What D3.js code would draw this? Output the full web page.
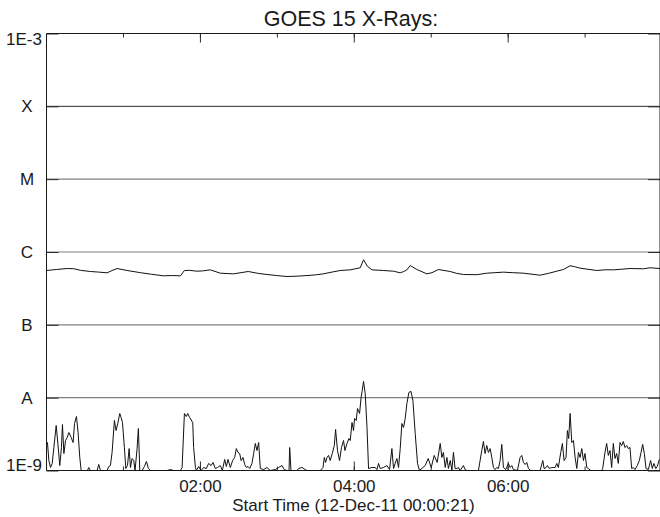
<!DOCTYPE html>
<html><head><meta charset="utf-8">
<script src="https://cdn.jsdelivr.net/npm/d3@7"></script>
<style>
body{margin:0;background:#fff;}
svg{display:block;}
text{font-family:"Liberation Sans",Arial,Helvetica,sans-serif;fill:#1a1a1a;}
</style>
</head><body>
<svg id="chart" width="660" height="517"></svg>
<script>
// ---- data ----
const titleText = "GOES 15 X-Rays:";
const xAxisTitle = "Start Time (12-Dec-11 00:00:21)";
const startMinute = 0.35;   // 00:00:21
const endMinute = 478.8;
const yTickValues = [1e-3, 1e-4, 1e-5, 1e-6, 1e-7, 1e-8, 1e-9];
const yTickLabels = ["1E-3", "X", "M", "C", "B", "A", "1E-9"];

// 1-8 A channel: [minutes after 00:00 UT, flux in 1e-7 W/m^2]
const longChannel = [
[0.4,5.57],[8,5.75],[16.5,5.93],[21.4,5.9],[27,5.6],[34.6,5.40],[41,5.3],[47.6,5.18],[51.5,5.57],[55.4,5.93],
[63.2,5.57],[73.6,5.2],[82,4.95],[91.5,4.71],[98,4.75],[104.8,4.71],[107.9,5.57],[112,5.6],[117.8,5.45],[122,5.5],
[128.1,5.69],[135.9,5.12],[146.1,5.01],[152,5.2],[157.7,5.40],[165,5.1],[172.3,4.91],[180,4.75],[187.9,4.61],[195,4.65],
[203.5,4.75],[210,4.85],[216.2,5.01],[223,5.3],[229.4,5.57],[237.2,5.69],[245.0,6.07],[247.6,7.82],[250.5,6.4],[254.1,5.69],
[263.2,5.57],[271.0,5.45],[276.2,5.18],[279,5.4],[281.4,5.69],[284.0,6.52],[289.2,5.75],[297.0,5.01],[301,5.2],[306.0,5.75],
[315.2,5.40],[320,5.1],[325.5,4.91],[336.0,4.88],[343.7,5.12],[350,5.2],[356.7,5.29],[364,5.2],[372.3,5.12],[385.3,4.80],
[392,5.1],[398.3,5.45],[403.4,5.75],[408.7,6.47],[412,6.3],[416.5,6.0],[429.5,5.57],[436,5.7],[442.4,5.69],[449,5.8],
[455.4,5.93],[465.8,5.88],[471.0,6.07],[478.8,5.93]
];

// 0.5-4 A channel: [minutes after 00:00 UT, flux in 1e-9 W/m^2]
const shortChannel = [
[0.4,2.42],[1.1,2.42],[2.2,1.37],[3.5,1.10],[4.8,1.25],[6.1,2.07],[7.9,4.15],[9.2,2.35],[10.7,1.17],[12.0,2.07],
[12.8,4.28],[13.9,1.71],[15.2,2.58],[16.5,2.84],[17.8,3.32],[19.6,2.84],[21.1,2.42],[22.2,4.42],[23.7,5.51],[25.0,3.32],
[26.3,1.51],[27.4,0.9],[30.7,0.9],[32.3,0.9],[33.3,1.10],[34.6,0.9],[39.8,0.9],[41.1,1.21],[42.4,0.9],[47.6,0.95],
[48.9,1.135],[50.2,1.17],[51.5,1.77],[53.3,4.86],[54.6,3.54],[55.9,4.42],[57.5,6.06],[58.5,5.34],[59.6,4.56],[61.1,2.07],
[62.2,1.065],[63.5,1.17],[64.8,2.0],[65.8,1.10],[67.1,1.46],[68.4,1.37],[69.4,0.95],[71.0,2.0],[72.0,3.77],[73.1,0.9],
[74.9,0.9],[76.7,1.135],[78.3,1.33],[79.8,1.065],[81.4,0.9],[94.4,0.9],[97.0,1.03],[99.6,0.9],[104.8,0.9],[106.1,1.10],
[107.9,6.06],[109.4,5.51],[110.5,6.06],[112.0,5.34],[114.4,4.56],[115.1,2.07],[116.5,1.10],[117.2,0.95],[119.0,1.135],[120.9,0.95],
[122.9,1.10],[125.0,1.065],[126.8,1.25],[128.7,1.17],[130.2,1.29],[132.0,1.065],[133.8,1.10],[135.9,1.17],[137.5,0.97],[139.3,1.42],
[140.6,1.135],[141.9,1.42],[143.7,1.10],[145.5,1.37],[147.1,1.51],[148.4,2.0],[149.7,1.77],[151.0,1.71],[152.1,1.37],[153.6,1.51],
[154.9,1.21],[156.2,1.10],[157.5,1.135],[158.8,1.065],[160.6,1.25],[161.9,1.71],[163.2,2.35],[164.5,1.88],[165.8,2.42],[167.1,1.065],
[169.7,1.03],[172.3,1.10],[174.9,0.95],[178.8,1.03],[181.4,1.10],[184.0,1.17],[185.8,1.03],[187.9,0.9],[189.5,0.9],[190.0,2.07],
[191.0,0.9],[195.7,0.9],[196.9,1.065],[199.6,1.10],[202.2,1.03],[203.5,0.9],[213.9,0.9],[216.0,1.10],[217.0,1.51],[218.0,1.29],
[219.1,1.51],[220.3,1.61],[221.6,1.37],[223.2,1.71],[224.8,2.20],[225.8,3.66],[227.3,1.88],[228.9,1.37],[230.4,2.07],[232.0,2.58],
[233.1,1.88],[234.7,2.35],[236.2,2.75],[237.2,2.58],[238.6,4.56],[239.8,3.54],[240.6,5.18],[241.9,4.86],[242.9,7.10],[244.5,6.06],
[245.6,9.75],[246.6,12.6],[247.6,16.7],[248.9,11.4],[250.3,3.89],[251.5,1.065],[254.1,1.10],[256.7,1.10],[258.0,1.03],[259.3,1.25],
[260.6,1.065],[263.2,1.10],[265.8,1.17],[267.9,1.03],[269.7,2.0],[271.0,1.065],[272.3,1.25],[273.6,1.46],[274.9,1.10],[276.2,2.0],
[277.5,4.42],[278.8,3.89],[280.1,5.18],[281.4,8.32],[283.0,11.8],[284.6,12.2],[286.1,9.15],[287.9,3.22],[289.7,1.25],[291.2,0.95],
[295.7,1.17],[298.0,1.46],[300.4,1.10],[302.7,1.61],[305.0,1.29],[307.4,2.35],[308.7,1.51],[309.9,1.77],[311.3,1.10],[312.6,1.51],
[313.8,1.065],[315.2,1.37],[316.5,0.95],[317.7,1.77],[319.0,1.065],[320.4,1.065],[321.6,1.10],[322.9,0.95],[325.5,1.17],[326.8,1.03],
[328.2,0.9],[337.2,0.9],[338.5,1.37],[339.8,1.88],[341.1,2.50],[342.4,1.71],[343.7,2.20],[345.0,1.77],[346.3,2.0],[347.6,1.51],
[348.9,1.10],[350.2,1.03],[351.5,1.10],[352.8,1.065],[354.1,1.37],[355.4,2.28],[356.7,1.10],[358.5,1.03],[360.6,1.25],[361.9,1.10],
[363.2,1.17],[364.5,1.03],[367.6,0.9],[369.7,1.51],[371.0,1.61],[372.3,1.29],[373.6,1.21],[374.9,1.29],[376.2,1.065],[378.0,0.9],
[385.3,0.9],[387.4,1.37],[388.4,1.065],[390.0,1.10],[391.0,1.17],[392.5,1.065],[394.4,1.10],[395.6,1.10],[397.0,1.10],[398.3,1.25],
[399.5,1.10],[401.4,1.77],[402.7,2.35],[404.0,1.37],[405.5,1.51],[406.6,3.54],[407.6,2.75],[408.7,6.06],[410.0,2.42],[411.3,2.58],
[412.6,1.51],[413.9,1.065],[415.2,1.77],[416.5,1.51],[417.8,2.0],[419.1,1.37],[420.3,1.71],[421.7,1.10],[422.9,1.065],[424.8,0.9],
[433.4,0.9],[434.1,1.065],[435.9,1.77],[437.2,2.35],[438.5,1.61],[439.8,1.88],[441.1,1.10],[442.4,2.35],[443.7,1.46],[445.0,1.71],
[446.3,1.25],[447.6,2.42],[448.9,2.20],[450.2,2.50],[451.5,2.07],[452.8,2.20],[454.1,2.0],[455.4,2.07],[456.7,1.065],[458.0,1.10],
[459.3,1.03],[461.1,1.17],[462.7,1.37],[464.0,1.77],[465.3,2.28],[466.6,1.71],[467.9,1.065],[469.7,1.03],[471.5,1.37],[472.8,1.065],
[474.1,1.25],[475.5,1.065],[476.7,1.135],[478.3,1.42]
];

// ---- layout ----
const L = 46.5, R = 660, T = 33.5, B = 470.5;
const t0 = Date.UTC(2011, 11, 12, 0, 0, 0);
const toDate = m => new Date(t0 + m * 60000);

const svg = d3.select("#chart");
const x = d3.scaleUtc().domain([toDate(startMinute), toDate(endMinute)]).range([L, R]);
const y = d3.scaleLog().domain([1e-9, 1e-3]).range([B, T]).clamp(true);

svg.append("defs").append("clipPath").attr("id", "plotclip")
  .append("rect").attr("x", L).attr("y", T - 1).attr("width", R - L).attr("height", B - T + 2);

// gridlines
svg.append("g").selectAll("line")
  .data(yTickValues.slice(1, -1))
  .join("line")
  .attr("x1", L).attr("x2", R)
  .attr("y1", d => y(d)).attr("y2", d => y(d))
  .attr("stroke", d => d === 1e-4 ? "#2a2a2a" : "#808080")
  .attr("stroke-width", d => d === 1e-4 ? 1 : 1.2);

// left / right decade ticks (inward)
const leftTicks = svg.append("g").attr("transform", `translate(${L},0)`)
  .call(d3.axisRight(y).tickValues(yTickValues).tickSize(12).tickFormat(""));
const rightTicks = svg.append("g").attr("transform", `translate(${R},0)`)
  .call(d3.axisLeft(y).tickValues(yTickValues).tickSize(12).tickFormat(""));
[leftTicks, rightTicks].forEach(g => { g.select(".domain").remove(); g.selectAll("line").attr("stroke", "#2a2a2a"); });

// time ticks top/bottom (inward)
function timeTicks(axisFn, ypos, every, size) {
  const g = svg.append("g").attr("transform", `translate(0,${ypos})`)
    .call(axisFn(x).ticks(d3.utcHour.every(every)).tickSize(size).tickFormat(""));
  g.select(".domain").remove();
  g.selectAll("line").attr("stroke", "#2a2a2a");
}
timeTicks(d3.axisBottom, T, 1, 4);
timeTicks(d3.axisBottom, T, 2, 9);
timeTicks(d3.axisTop, B, 1, 4);
timeTicks(d3.axisTop, B, 2, 9);

// frame
const frame = svg.append("g").attr("stroke", "#1a1a1a").attr("stroke-width", 1);
frame.append("line").attr("x1", L).attr("x2", R).attr("y1", T).attr("y2", T);
frame.append("line").attr("x1", L).attr("x2", R).attr("y1", B).attr("y2", B);
frame.append("line").attr("x1", L).attr("x2", L).attr("y1", T).attr("y2", B);
frame.append("line").attr("x1", R).attr("x2", R).attr("y1", T).attr("y2", B);

// data lines
const lineLong = d3.line().x(d => x(toDate(d[0]))).y(d => y(d[1] * 1e-7));
const lineShort = d3.line().x(d => x(toDate(d[0]))).y(d => y(d[1] * 1e-9));
const plot = svg.append("g").attr("clip-path", "url(#plotclip)");
plot.append("path").datum(longChannel).attr("d", lineLong)
  .attr("fill", "none").attr("stroke", "#111").attr("stroke-width", 1);
plot.append("path").datum(shortChannel).attr("d", lineShort)
  .attr("fill", "none").attr("stroke", "#111").attr("stroke-width", 1);

// x tick labels
const xl = svg.append("g").attr("transform", `translate(0,${B})`)
  .call(d3.axisBottom(x).ticks(d3.utcHour.every(2)).tickSize(0).tickPadding(9.5)
    .tickFormat(d3.utcFormat("%H:%M")));
xl.select(".domain").remove();
xl.selectAll("text").attr("font-size", 17).attr("font-family", "Liberation Sans, Arial, sans-serif").attr("fill", "#1a1a1a");

// y labels
svg.append("g").selectAll("text")
  .data(yTickValues.map((v, i) => ({ v, label: yTickLabels[i], i })))
  .join("text")
  .attr("font-size", 17)
  .attr("text-anchor", d => (d.i === 0 || d.i === yTickValues.length - 1) ? "end" : "middle")
  .attr("x", d => (d.i === 0 || d.i === yTickValues.length - 1) ? 42 : 27)
  .attr("y", d => d.i === 0 ? y(d.v) + 11 : (d.i === yTickValues.length - 1 ? y(d.v) : y(d.v) + 6))
  .text(d => d.label);

// titles
svg.append("text").attr("x", 351).attr("y", 26).attr("text-anchor", "middle")
  .attr("font-size", 21.5).text(titleText);
svg.append("text").attr("x", 353.5).attr("y", 511).attr("text-anchor", "middle")
  .attr("font-size", 17).text(xAxisTitle);
</script>
</body></html>
